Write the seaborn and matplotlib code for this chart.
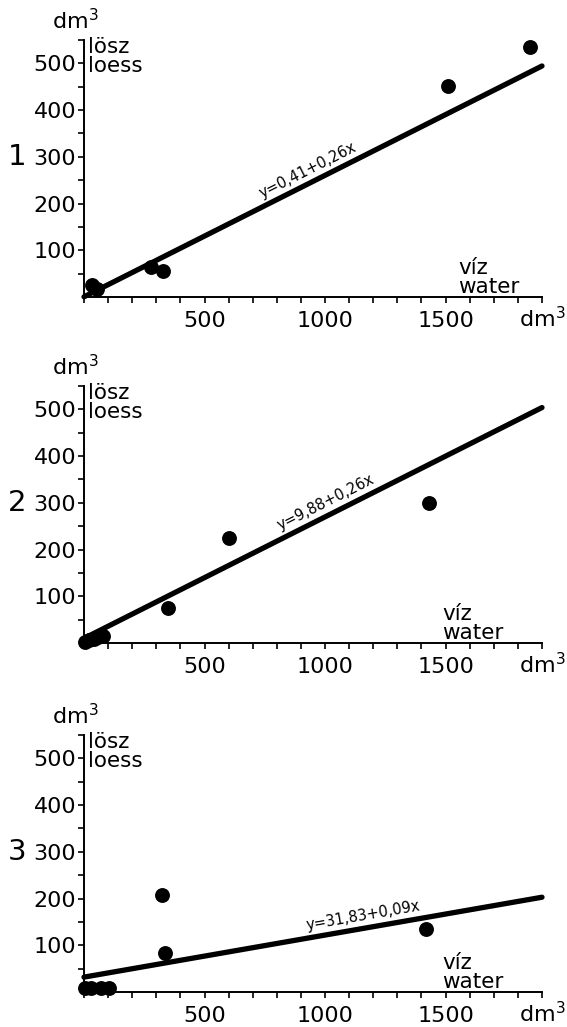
import numpy as np
import pandas as pd
import matplotlib
matplotlib.use("Agg")
import matplotlib.pyplot as plt
import seaborn as sns
from matplotlib.ticker import MultipleLocator, FixedLocator

sns.set_style("white")
plt.rcParams["font.family"] = ["DejaVu Sans"]
plt.rcParams["text.color"] = "black"
plt.rcParams["xtick.color"] = "black"
plt.rcParams["ytick.color"] = "black"
plt.rcParams["xtick.labelcolor"] = "black"
plt.rcParams["ytick.labelcolor"] = "black"

# water (x) vs loess (y) volumes, dm3, for the three sites
water_1 = [34, 55, 277, 328, 1508, 1851]
loess_1 = [25, 17, 65, 55, 451, 534]
water_2 = [5, 20, 40, 60, 80, 347, 600, 1430]
loess_2 = [3, 6, 9, 12, 16, 75, 225, 300]
water_3 = [5, 30, 70, 105, 322, 337, 1417]
loess_3 = [8, 8, 8, 8, 207, 83, 135]

intercepts = [0.41, 9.88, 31.83]
slopes = [0.26, 0.26, 0.09]
equations = ["y=0,41+0,26x", "y=9,88+0,26x", "y=31,83+0,09x"]
panel_ids = ["1", "2", "3"]
label_x = [950, 1025, 1165]

x_span = [0, 1900]
y_top = 550

W, H = 567, 1027
fig = plt.figure(figsize=(W / 100, H / 100), dpi=100)

# axes boxes in pixels: left, right, top, bottom
boxes = [(84, 542, 40, 297), (84, 542, 386, 643), (84, 542, 735, 992)]
water_left_px = [458, 442, 442]

datasets = [(water_1, loess_1), (water_2, loess_2), (water_3, loess_3)]

for i, ((l, r, t, b), (xs, ys)) in enumerate(zip(boxes, datasets)):
    ax = fig.add_axes([l / W, 1 - b / H, (r - l) / W, (b - t) / H])
    ax.set_xlim(*x_span)
    ax.set_ylim(0, y_top)

    df = pd.DataFrame({"water": xs, "loess": ys})
    sns.scatterplot(data=df, x="water", y="loess", ax=ax, color="black",
                    s=115, edgecolor="black", linewidth=0, zorder=3, clip_on=False)

    line_df = pd.DataFrame({"water": x_span,
                            "loess": [intercepts[i] + slopes[i] * v for v in x_span]})
    sns.lineplot(data=line_df, x="water", y="loess", ax=ax, color="black",
                 linewidth=3.8, zorder=2, clip_on=False)

    for side in ["top", "right"]:
        ax.spines[side].set_visible(False)
    for side in ["left", "bottom"]:
        ax.spines[side].set_linewidth(1.4)
        ax.spines[side].set_color("black")

    ax.xaxis.set_major_locator(FixedLocator([500, 1000, 1500]))
    ax.xaxis.set_minor_locator(MultipleLocator(100))
    ax.yaxis.set_major_locator(FixedLocator([100, 200, 300, 400, 500]))
    ax.yaxis.set_minor_locator(FixedLocator([50, 150, 250, 350, 450, 550]))
    ax.tick_params(axis="both", which="both", direction="out", color="black",
                   width=1.2, bottom=True, left=True)
    ax.tick_params(axis="x", which="both", length=4, pad=6, labelsize=16)
    ax.tick_params(axis="y", which="both", length=4, pad=1.5, labelsize=16)
    ax.set_xlabel("")
    ax.set_ylabel("")
    ax.grid(False)

    # units and axis names
    ax.text(-0.02, 1.025, "dm$^3$", transform=ax.transAxes, ha="center",
            va="bottom", fontsize=16)
    ax.text(1.0, -0.035, "dm$^3$", transform=ax.transAxes, ha="center",
            va="top", fontsize=16)
    ax.text(0.008, 1.01, "lösz\nloess", transform=ax.transAxes, ha="left",
            va="top", fontsize=15.5, linespacing=0.92)
    ax.text((water_left_px[i] - l) / (r - l), 0.0, "víz\nwater",
            transform=ax.transAxes, ha="left", va="bottom", fontsize=15.5,
            linespacing=0.92)
    ax.text(-0.125, 0.545, panel_ids[i], transform=ax.transAxes, ha="right",
            va="center", fontsize=21)

    # equation label along the regression line
    lx = label_x[i]
    ly = intercepts[i] + slopes[i] * lx
    p0 = ax.transData.transform((0, intercepts[i]))
    p1 = ax.transData.transform((x_span[1], intercepts[i] + slopes[i] * x_span[1]))
    ang = np.degrees(np.arctan2(p1[1] - p0[1], p1[0] - p0[0]))
    nx, ny = -np.sin(np.radians(ang)), np.cos(np.radians(ang))
    ax.annotate(equations[i], (lx, ly), xytext=(nx * 3.5, ny * 3.5),
                textcoords="offset points", rotation=ang,
                rotation_mode="anchor", ha="center", va="bottom", fontsize=10.5)

fig.savefig("out.png", dpi=100)
